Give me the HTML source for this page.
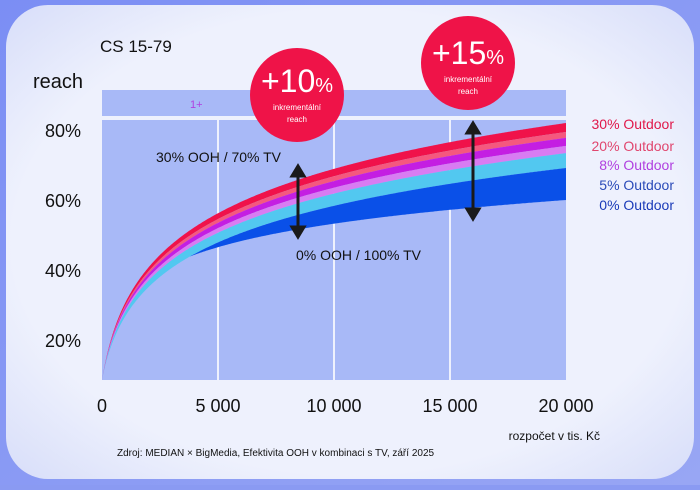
<!DOCTYPE html>
<html><head><meta charset="utf-8"><style>
body{margin:0;width:700px;height:485px;overflow:hidden;background:#8a9af2;font-family:"Liberation Sans",sans-serif}
</style></head><body>
<svg width="700" height="485" xmlns="http://www.w3.org/2000/svg">
<defs>
<linearGradient id="bg" x1="0" y1="0" x2="1" y2="1"><stop offset="0" stop-color="#7b8ef4"/><stop offset="1" stop-color="#98a6f4"/></linearGradient>
<radialGradient id="card" cx="0.5" cy="0.5" r="0.7"><stop offset="0.7" stop-color="#eef1fd"/><stop offset="1" stop-color="#d8def9"/></radialGradient>
</defs>
<rect width="700" height="485" fill="url(#bg)"/>
<rect x="6" y="5" width="688" height="474" rx="42" fill="url(#card)"/>
<rect x="102" y="90" width="464" height="26" fill="#a8b9f7"/>
<text x="190" y="108" font-size="11" fill="#b040e0">1+</text>
<rect x="102" y="120" width="464" height="260" fill="#a8b9f7"/>
<g stroke="#eef1fd" stroke-width="2"><line x1="218" y1="120" x2="218" y2="380"/><line x1="334" y1="120" x2="334" y2="380"/><line x1="450" y1="120" x2="450" y2="380"/></g>
<g id="bands"></g>
<g font-size="18" fill="#111"><text x="45" y="137">80%</text><text x="45" y="207">60%</text><text x="45" y="277">40%</text><text x="45" y="347">20%</text></g>
<g font-size="18" fill="#111" text-anchor="middle"><text x="102" y="412">0</text><text x="218" y="412">5 000</text><text x="334" y="412">10 000</text><text x="450" y="412">15 000</text><text x="566" y="412">20 000</text></g>
<text x="600" y="440" font-size="12" fill="#111" text-anchor="end">rozpočet v tis. Kč</text>
<text x="117" y="456" font-size="10" fill="#111">Zdroj: MEDIAN × BigMedia, Efektivita OOH v kombinaci s TV, září 2025</text>
<text x="100" y="52" font-size="17" fill="#111">CS 15-79</text>
<text x="33" y="88" font-size="20" fill="#111">reach</text>
<text x="156" y="162" font-size="14" fill="#111">30% OOH  /  70% TV</text>
<text x="296" y="260" font-size="14" fill="#111">0% OOH  /  100% TV</text>
<g font-size="14" text-anchor="end"><text x="674" y="129" fill="#e0184a">30% Outdoor</text><text x="674" y="151" fill="#e0466e">20% Outdoor</text><text x="674" y="170" fill="#b040e0">8% Outdoor</text><text x="674" y="190" fill="#2a4ab8">5% Outdoor</text><text x="674" y="210" fill="#1a3ab8">0% Outdoor</text></g>
<g stroke="#1a1a1a" stroke-width="3" fill="#1a1a1a">
<line x1="298" y1="174" x2="298" y2="229"/><polygon points="292,176 304,176 298,166"/><polygon points="292,227 304,227 298,237"/>
<line x1="473" y1="132" x2="473" y2="210"/><polygon points="467,133 479,133 473,123"/><polygon points="467,209 479,209 473,219"/>
</g>
<circle cx="297" cy="95" r="47" fill="#ef1348"/>
<text x="297" y="92" font-size="32" fill="#fff" text-anchor="middle">+10<tspan font-size="20">%</tspan></text>
<text x="297" y="110" font-size="8" fill="#fff" text-anchor="middle">inkrementální</text>
<text x="297" y="122" font-size="8" fill="#fff" text-anchor="middle">reach</text>
<circle cx="468" cy="63" r="47" fill="#ef1348"/>
<text x="468" y="64" font-size="32" fill="#fff" text-anchor="middle">+15<tspan font-size="20">%</tspan></text>
<text x="468" y="82" font-size="8" fill="#fff" text-anchor="middle">inkrementální</text>
<text x="468" y="94" font-size="8" fill="#fff" text-anchor="middle">reach</text>
</svg>
<script>
function f(x,R,k){var d=x-102;return 380-R*Math.log(1+k*d)/Math.log(1+464*k);}
var F=[0,.2,.33,.51,.67,1];
var C=["#f0124a","#f5587e","#c41ee2","#d87cf2","#52c8f0","#0a50e8"];
function yb(i,x){var a=f(x,257,0.09),b=f(x,212,0.09);if(i<6)return a+F[i]*(b-a);return Math.max(b,f(x,180,0.4));}
var g=document.getElementById('bands'),s="";
for(var i=0;i<6;i++){var d="M102,380";for(var x=102;x<=566;x+=1)d+=" L"+x+","+yb(i,x).toFixed(1);for(var x=566;x>=102;x-=1)d+=" L"+x+","+yb(i+1,x).toFixed(1);s+='<path d="'+d+'Z" fill="'+C[i]+'"/>';}
g.innerHTML=s;
</script>
</body></html>
